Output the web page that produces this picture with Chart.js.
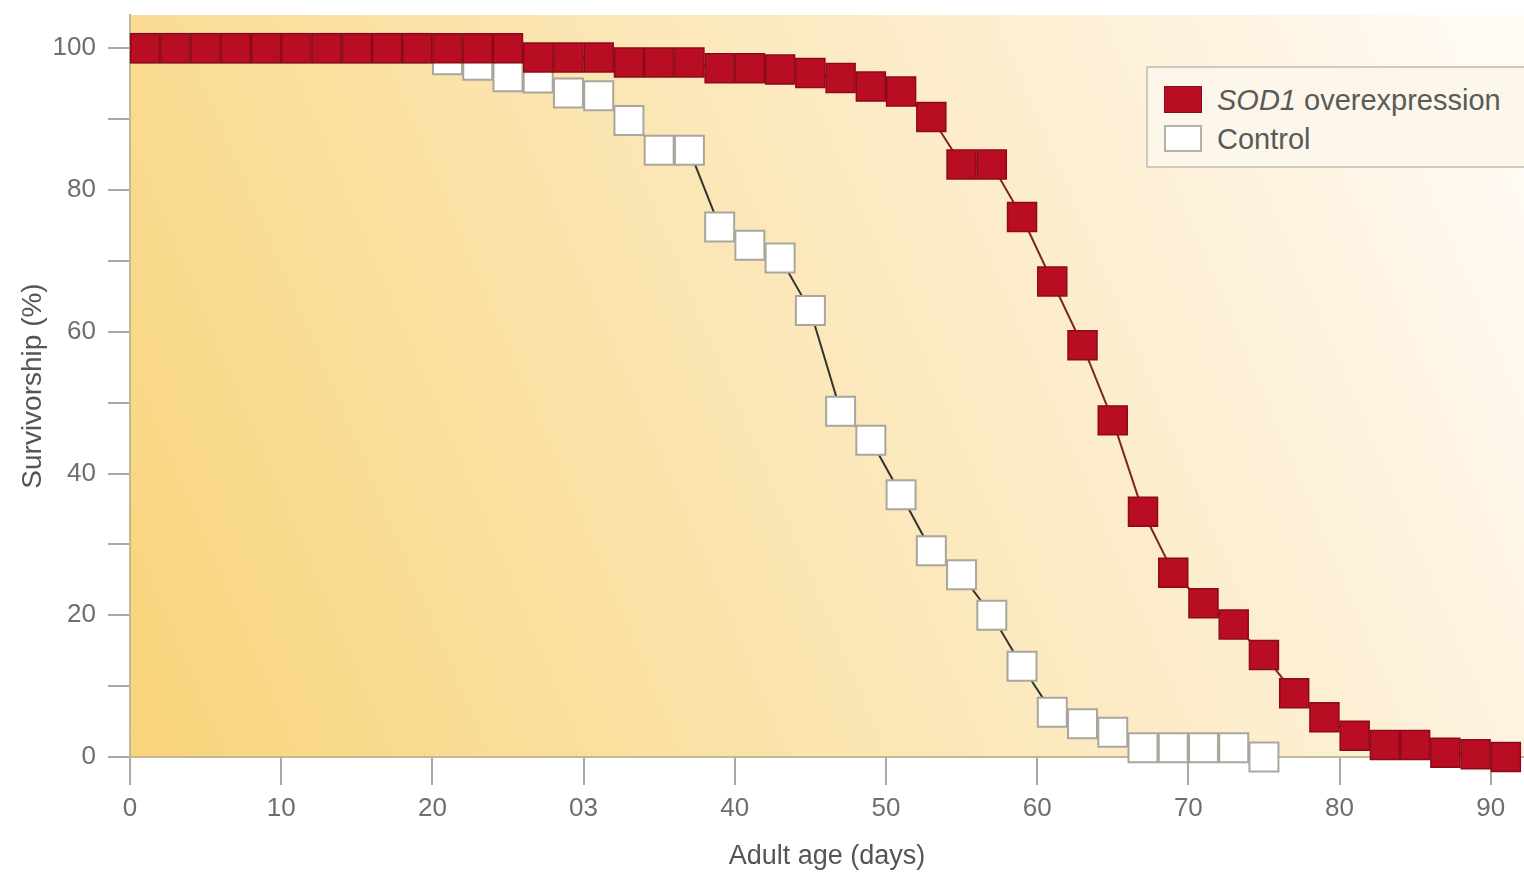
<!DOCTYPE html>
<html>
<head>
<meta charset="utf-8">
<script src="https://cdn.jsdelivr.net/npm/chart.js@4.4.0/dist/chart.umd.min.js"></script>
<style>
  html, body { margin: 0; padding: 0; background: #fff; }
  #wrap { position: relative; width: 1524px; height: 877px; }
  #legend {
    position: absolute; left: 1146px; top: 66px; width: 378px; height: 102px;
    box-sizing: border-box; border: 2px solid #cfc9bc; border-right: none;
    background: #fdf6ea; font-family: "Liberation Sans", Arial, sans-serif;
    font-size: 29px; color: #5a5a5a;
  }
  .row { position: absolute; left: 0; height: 30px; line-height: 30px; white-space: nowrap; }
  .sw { position: absolute; left: 16px; top: 1px; width: 38px; height: 27px; box-sizing: border-box; }
  .lbl { position: absolute; left: 69px; top: 0; }
</style>
</head>
<body>
<div id="wrap">
  <canvas id="survivalChart" width="1524" height="877"></canvas>
  <div id="legend"></div>
</div>
<script>
// ages in days, survivorship in %
const sodDays = [1, 3, 5, 7, 9, 11, 13, 15, 17, 19, 21, 23, 25, 27, 29, 31, 33, 35, 37, 39, 41, 43, 45, 47,
                 49, 51, 53, 55, 57, 59, 61, 63, 65, 67, 69, 71, 73, 75, 77, 79, 81, 83, 85, 87, 89, 91];
const sodValues = [100, 100, 100, 100, 100, 100, 100, 100, 100, 100, 100, 100, 100, 98.7, 98.7, 98.7,
                   98.0, 98.0, 98.0, 97.2, 97.2, 97.0, 96.5, 95.8, 94.6, 93.9, 90.3, 83.6, 83.6, 76.2,
                   67.1, 58.1, 47.5, 34.6, 26.0, 21.7, 18.7, 14.4, 9.0, 5.6, 3.0, 1.7, 1.7, 0.6, 0.4, 0];
const controlDays = [1, 3, 5, 7, 9, 11, 13, 15, 17, 19, 21, 23, 25, 27, 29, 31, 33, 35, 37, 39, 41, 43, 45,
                     47, 49, 51, 53, 55, 57, 59, 61, 63, 65, 67, 69, 71, 73, 75];
const controlValues = [100, 100, 100, 100, 100, 100, 100, 100, 100, 100, 98.4, 97.6, 96.0, 95.8, 93.7,
                       93.3, 89.8, 85.6, 85.6, 74.8, 72.2, 70.4, 63.0, 48.8, 44.7, 37.0, 29.1, 25.7, 20.0,
                       12.8, 6.3, 4.7, 3.5, 1.3, 1.3, 1.3, 1.3, 0];
const xTicks = [0, 10, 20, 30, 40, 50, 60, 70, 80, 90];
const xTickLabels = ['0', '10', '20', '03', '40', '50', '60', '70', '80', '90'];
const yTicks = [0, 10, 20, 30, 40, 50, 60, 70, 80, 90, 100];
const seriesNames = ['SOD1 overexpression', 'Control'];

const toPoints = (xs, ys) => xs.map((x, i) => ({ x: x, y: ys[i] }));

const bgPlugin = {
  id: 'plotBackground',
  beforeDraw(chart) {
    const { ctx, chartArea: a } = chart;
    const g = ctx.createLinearGradient(a.left, a.bottom, a.right, a.top + a.height * 0.2);
    g.addColorStop(0, '#f8d47a');
    g.addColorStop(0.45, '#fbe5b2');
    g.addColorStop(0.8, '#fdf1da');
    g.addColorStop(1, '#fffaf3');
    ctx.save();
    ctx.fillStyle = g;
    ctx.fillRect(a.left, a.top, a.width, a.height);
    ctx.restore();
  }
};

const font = { family: '"Liberation Sans", Arial, sans-serif', size: 26 };

const ctx = document.getElementById('survivalChart').getContext('2d');
const chart = new Chart(ctx, {
  type: 'line',
  data: {
    datasets: [{
      label: seriesNames[0],
      data: toPoints(sodDays, sodValues),
      borderColor: '#7c2a14',
      borderWidth: 2,
      pointStyle: 'rect',
      pointRadius: 20.5,
      pointBackgroundColor: '#b80d22',
      pointBorderColor: '#8c0a1a',
      pointBorderWidth: 1.5,
      clip: false,
      order: 0
    }, {
      label: seriesNames[1],
      data: toPoints(controlDays, controlValues),
      borderColor: '#333333',
      borderWidth: 2,
      pointStyle: 'rect',
      pointRadius: 20.5,
      pointBackgroundColor: '#ffffff',
      pointBorderColor: '#a9a79c',
      pointBorderWidth: 2,
      clip: false,
      order: 1
    }]
  },
  options: {
    responsive: false,
    animation: false,
    layout: { autoPadding: false, padding: { top: 15, right: 0, left: 0, bottom: 0 } },
    plugins: { legend: { display: false }, tooltip: { enabled: false } },
    scales: {
      x: {
        type: 'linear',
        min: 0,
        max: 92.2,
        afterFit: s => { s.height = 120; s.paddingLeft = 0; s.paddingRight = 0; },
        afterBuildTicks: s => { s.ticks = xTicks.map(v => ({ value: v })); },
        ticks: {
          color: '#6e6e6e',
          font: font,
          padding: 8,
          maxRotation: 0,
          callback: v => xTickLabels[xTicks.indexOf(v)]
        },
        grid: { drawOnChartArea: false, tickLength: 28, color: '#a8a8a8', lineWidth: 2 },
        border: { color: '#c2b894', width: 2 },
        title: { display: true, text: 'Adult age (days)', color: '#555', font: { family: font.family, size: 27 }, padding: { top: 0, bottom: 4 } }
      },
      y: {
        min: 0,
        max: 104.7,
        afterFit: s => { s.width = 130; s.paddingTop = 0; s.paddingBottom = 0; },
        afterBuildTicks: s => { s.ticks = yTicks.map(v => ({ value: v })); },
        ticks: {
          color: '#6e6e6e',
          font: font,
          padding: 12,
          callback: v => (v % 20 === 0 ? String(v) : '')
        },
        grid: { drawOnChartArea: false, tickLength: 22, color: '#a8a8a8', lineWidth: 2 },
        border: { color: '#c2b894', width: 2 },
        title: { display: true, text: 'Survivorship (%)', color: '#555', font: { family: font.family, size: 28 }, padding: { top: 16, bottom: 0 } }
      }
    }
  },
  plugins: [bgPlugin]
});

// legend with italic gene name
const legend = document.getElementById('legend');
const swatches = [
  { bg: '#b80d22', border: '1.5px solid #8c0a1a' },
  { bg: '#ffffff', border: '2px solid #b5b3a8' }
];
const rowTops = [17, 56];
seriesNames.forEach((name, i) => {
  const row = document.createElement('div');
  row.className = 'row';
  row.style.top = rowTops[i] + 'px';
  const sw = document.createElement('div');
  sw.className = 'sw';
  sw.style.background = swatches[i].bg;
  sw.style.border = swatches[i].border;
  const lbl = document.createElement('div');
  lbl.className = 'lbl';
  if (name.startsWith('SOD1')) {
    lbl.innerHTML = '<i>SOD1</i>' + name.slice(4);
  } else {
    lbl.textContent = name;
  }
  row.appendChild(sw);
  row.appendChild(lbl);
  legend.appendChild(row);
});
</script>
</body>
</html>
